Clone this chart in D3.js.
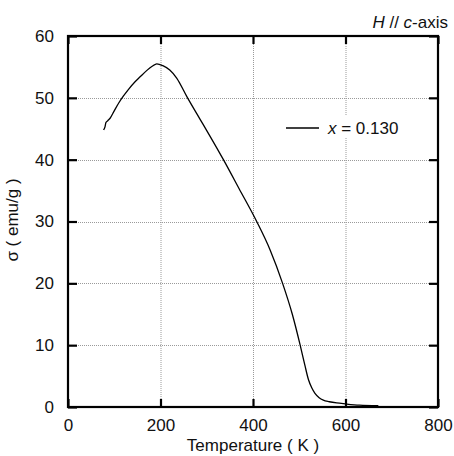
<!DOCTYPE html>
<html>
<head>
<meta charset="utf-8">
<script src="https://cdn.jsdelivr.net/npm/d3@7"></script>
<style>
  body { margin: 0; background: #fff; }
  svg text { font-family: "Liberation Sans", Arial, sans-serif; fill: #111; }
</style>
</head>
<body>
<svg id="chart" width="454" height="456"></svg>
<script>
// magnetization vs temperature, x = 0.130, H // c-axis
const temps = [77, 80, 82, 86, 91, 100, 110, 120, 130, 145, 156, 170, 182, 192, 205, 220, 235, 257, 285, 300, 336, 370, 408, 437, 464, 485, 502, 512, 520, 527, 534, 543, 552, 565, 581, 600, 630, 671];
const sigma = [44.8, 45.3, 46.0, 46.3, 46.7, 47.9, 49.2, 50.3, 51.3, 52.6, 53.4, 54.4, 55.1, 55.5, 55.2, 54.5, 53.2, 50.2, 46.6, 44.7, 40.0, 35.3, 30.0, 25.4, 20.0, 15.0, 10.0, 6.8, 4.4, 3.1, 2.2, 1.5, 1.1, 0.85, 0.65, 0.5, 0.3, 0.2];
const xTicks = [0, 200, 400, 600, 800];
const yTicks = [0, 10, 20, 30, 40, 50, 60];
const seriesLabel = "0.130";

const svg = d3.select("#chart");
const L = 68, R = 438, T = 36, B = 407;

const x = d3.scaleLinear().domain([0, 800]).range([L, R]);
const y = d3.scaleLinear().domain([0, 60]).range([B, T]);

// grid
const grid = svg.append("g")
  .attr("stroke", "#9a9a9a")
  .attr("stroke-width", 1)
  .attr("stroke-dasharray", "1,1");
grid.selectAll(".gx").data(xTicks.slice(1, -1)).enter().append("line")
  .attr("x1", d => x(d) + 0.5).attr("x2", d => x(d) + 0.5)
  .attr("y1", T).attr("y2", B);
grid.selectAll(".gy").data(yTicks.slice(1, -1)).enter().append("line")
  .attr("x1", L).attr("x2", R)
  .attr("y1", d => Math.round(y(d)) + 0.5).attr("y2", d => Math.round(y(d)) + 0.5);

// legend background covers grid
svg.append("rect")
  .attr("x", 280).attr("y", 115).attr("width", 130).attr("height", 23)
  .attr("fill", "#fff");

// axes with inward ticks
const fmt = d3.format("d");
const axB = svg.append("g").attr("transform", `translate(0,${B})`)
  .call(d3.axisBottom(x).tickValues(xTicks).tickSize(-8).tickPadding(12).tickFormat(fmt));
const axT = svg.append("g").attr("transform", `translate(0,${T})`)
  .call(d3.axisTop(x).tickValues(xTicks).tickSize(-8).tickFormat(""));
const axL = svg.append("g").attr("transform", `translate(${L},0)`)
  .call(d3.axisLeft(y).tickValues(yTicks).tickSize(-9).tickPadding(14).tickFormat(fmt));
const axR = svg.append("g").attr("transform", `translate(${R},0)`)
  .call(d3.axisRight(y).tickValues(yTicks).tickSize(-9).tickFormat(""));

[axB, axT, axL, axR].forEach(g => {
  g.select(".domain").remove();
  g.selectAll(".tick line").attr("stroke", "#000").attr("stroke-width", 2.2);
  g.selectAll(".tick text").attr("font-size", 17).attr("fill", "#111");
});
axB.selectAll(".tick text").attr("dy", "0.71em");

// frame
svg.append("rect")
  .attr("x", L).attr("y", T).attr("width", R - L).attr("height", B - T)
  .attr("fill", "none").attr("stroke", "#000").attr("stroke-width", 2.2);

// curve
const pts = temps.map((t, i) => [t, sigma[i]]);
svg.append("path")
  .datum(pts)
  .attr("fill", "none")
  .attr("stroke", "#000")
  .attr("stroke-width", 1.3)
  .attr("d", d3.line().x(d => x(d[0])).y(d => y(d[1])).curve(d3.curveMonotoneX));

// legend
svg.append("line")
  .attr("x1", 286).attr("x2", 319).attr("y1", 128).attr("y2", 128)
  .attr("stroke", "#000").attr("stroke-width", 1.3);
const lt = svg.append("text").attr("x", 328).attr("y", 134).attr("font-size", 17);
lt.append("tspan").attr("font-style", "italic").text("x");
lt.append("tspan").text(" = " + seriesLabel);

// titles
const tt = svg.append("text").attr("x", 448).attr("y", 28)
  .attr("text-anchor", "end").attr("font-size", 17);
tt.append("tspan").attr("font-style", "italic").text("H");
tt.append("tspan").text(" // ");
tt.append("tspan").attr("font-style", "italic").text("c");
tt.append("tspan").text("-axis");

svg.append("text")
  .attr("x", (L + R) / 2).attr("y", 451)
  .attr("text-anchor", "middle").attr("font-size", 17)
  .text("Temperature ( K )");

svg.append("text")
  .attr("transform", "translate(18,220) rotate(-90)")
  .attr("text-anchor", "middle").attr("font-size", 17)
  .text("σ ( emu/g )");
</script>
</body>
</html>
